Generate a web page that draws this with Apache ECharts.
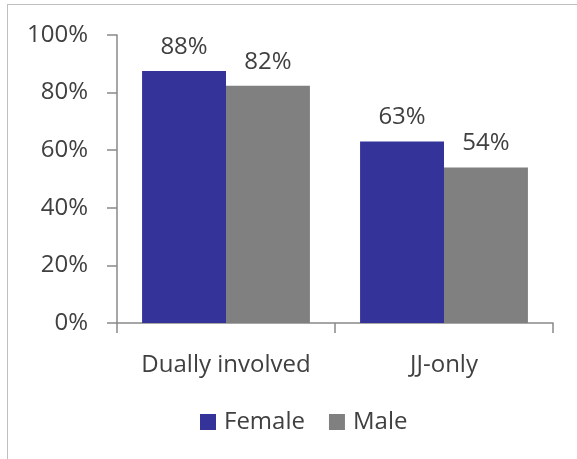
<!DOCTYPE html>
<html><head><meta charset="utf-8">
<script src="https://cdn.jsdelivr.net/npm/echarts@6/dist/echarts.min.js"></script>
<style>html,body{margin:0;padding:0;background:#fff}#c{width:577px;height:459px;position:relative}
#frame{position:absolute;left:7px;top:4px;width:600px;height:500px;border:1.5px solid #bfbfbf;box-sizing:border-box;pointer-events:none}</style>
</head><body><div id="c"></div><div id="frame"></div>
<script>
var categories = ['Dually involved', 'JJ-only'];
var femaleValues = [87.5, 63];
var maleValues = [82.4, 54];
var yTicks = [0, 20, 40, 60, 80, 100];
var seriesNames = ['Female', 'Male'];

var font = 'Open Sans';
var txt = '#404040';
var fs = 24;
var chart = echarts.init(document.getElementById('c'), null, {renderer: 'canvas'});
function lbl() {
  return {show: true, position: 'top', distance: 12, color: txt, fontSize: fs, fontFamily: font,
    formatter: function (p) { return Math.round(p.value) + '%'; }};
}
chart.setOption({
  animation: false,
  grid: {left: 117, right: 24, top: 35, bottom: 136},
  legend: {
    data: seriesNames, top: 405, left: 195, itemWidth: 16, itemHeight: 16, itemGap: 24,
    icon: 'rect', textStyle: {color: txt, fontSize: fs, fontFamily: font, padding: [0, 0, 0, 3]}
  },
  xAxis: {
    type: 'category', data: categories,
    axisLine: {lineStyle: {color: '#898989', width: 1.5}},
    axisTick: {show: true, length: 10, lineStyle: {color: '#898989', width: 1.5}},
    axisLabel: {color: txt, fontSize: fs, fontFamily: font, margin: 30, interval: 0, hideOverlap: false}
  },
  yAxis: {
    type: 'value', min: yTicks[0], max: yTicks[yTicks.length - 1], interval: 20,
    axisLine: {show: true, lineStyle: {color: '#898989', width: 1.5}},
    axisTick: {show: true, length: 10, lineStyle: {color: '#898989', width: 1.5}},
    splitLine: {show: false},
    axisLabel: {color: txt, fontSize: fs, fontFamily: font, margin: 29, formatter: '{value}%'}
  },
  series: [
    {name: seriesNames[0], type: 'bar', data: femaleValues, barWidth: '38.5%', barGap: '0%',
     itemStyle: {color: '#333399'}, label: lbl()},
    {name: seriesNames[1], type: 'bar', data: maleValues, barWidth: '38.5%', barGap: '0%',
     itemStyle: {color: '#808080'}, label: lbl()}
  ]
});
</script></body></html>
